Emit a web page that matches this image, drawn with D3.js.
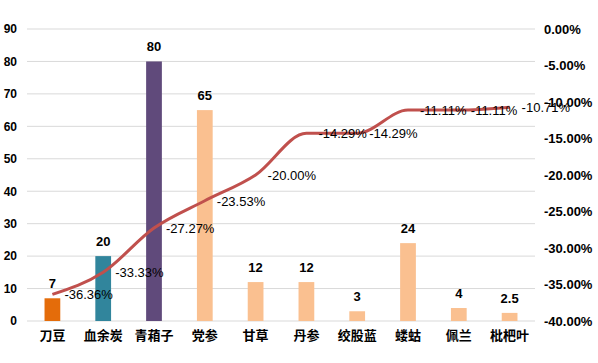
<!DOCTYPE html>
<html><head><meta charset="utf-8">
<script src="https://cdn.jsdelivr.net/npm/d3@7"></script>
<style>body{margin:0;background:#fff}</style>
</head><body>
<svg id="c" width="598" height="363"></svg>
<script>
const categories = ["刀豆","血余炭","青葙子","党参","甘草","丹参","绞股蓝","蝼蛄","佩兰","枇杷叶"];
const barValues = [7,20,80,65,12,12,3,24,4,2.5];
const lineValues = [-36.36,-33.33,-27.27,-23.53,-20.00,-14.29,-14.29,-11.11,-11.11,-10.71];
const barColors = ["#E46C0A","#31859C","#604A7B","#FAC090","#FAC090","#FAC090","#FAC090","#FAC090","#FAC090","#FAC090"];
const leftTicks = [0,10,20,30,40,50,60,70,80,90];
const rightTicks = [0,-5,-10,-15,-20,-25,-30,-35,-40];

const svg = d3.select("#c");
const L = 27, R = 535, T = 29, B = 321;
const font = "'Liberation Sans', 'Noto Sans CJK SC', sans-serif";
const x = d3.scaleBand().domain(categories).range([L, R]).paddingInner(0.69).paddingOuter(0.345);
const y = d3.scaleLinear().domain([0, 90]).range([B, T]);
const y2 = d3.scaleLinear().domain([-40, 0]).range([B, T]);

// gridlines
svg.append("g").selectAll("line").data(leftTicks).join("line")
  .attr("x1", L).attr("x2", R).attr("y1", d => y(d)).attr("y2", d => y(d))
  .attr("stroke", "#d9d9d9").attr("stroke-width", 1);

// left axis
const ga = svg.append("g").attr("transform", `translate(${L},0)`)
  .call(d3.axisLeft(y).tickValues(leftTicks).tickSize(0).tickPadding(10));
ga.select(".domain").remove();
ga.selectAll("text").attr("font-family", font).attr("font-size", 12).attr("font-weight", "bold").attr("fill", "#000");

// right axis
const gr = svg.append("g").attr("transform", `translate(${R},0)`)
  .call(d3.axisRight(y2).tickValues(rightTicks).tickSize(0).tickPadding(9).tickFormat(d => d.toFixed(2) + "%"));
gr.select(".domain").remove();
gr.selectAll("text").attr("font-family", font).attr("font-size", 13).attr("font-weight", "bold").attr("fill", "#000");

// x axis
const gx = svg.append("g").attr("transform", `translate(0,${B})`)
  .call(d3.axisBottom(x).tickSize(0).tickPadding(10));
gx.select(".domain").remove();
gx.selectAll("text").attr("font-family", font).attr("font-size", 13).attr("font-weight", "bold").attr("fill", "#000");

// bars
svg.append("g").selectAll("rect").data(barValues).join("rect")
  .attr("x", (d, i) => x(categories[i])).attr("width", x.bandwidth())
  .attr("y", d => y(d)).attr("height", d => B - y(d))
  .attr("fill", (d, i) => barColors[i]);

svg.append("g").selectAll("text").data(barValues).join("text")
  .attr("x", (d, i) => x(categories[i]) + x.bandwidth() / 2)
  .attr("y", d => y(d) - 10)
  .attr("text-anchor", "middle")
  .attr("font-family", font).attr("font-size", 13).attr("font-weight", "bold")
  .text(d => d);

// line
const cx = i => x(categories[i]) + x.bandwidth() / 2;
const line = d3.line().x((d, i) => cx(i)).y(d => y2(d)).curve(d3.curveMonotoneX);
svg.append("path").datum(lineValues).attr("d", line)
  .attr("fill", "none").attr("stroke", "#C0504D").attr("stroke-width", 3);

svg.append("g").selectAll("text").data(lineValues).join("text")
  .attr("x", (d, i) => cx(i) + 12)
  .attr("y", d => y2(d) + 5)
  .attr("font-family", font).attr("font-size", 13)
  .text(d => d.toFixed(2) + "%");
</script>
</body></html>
